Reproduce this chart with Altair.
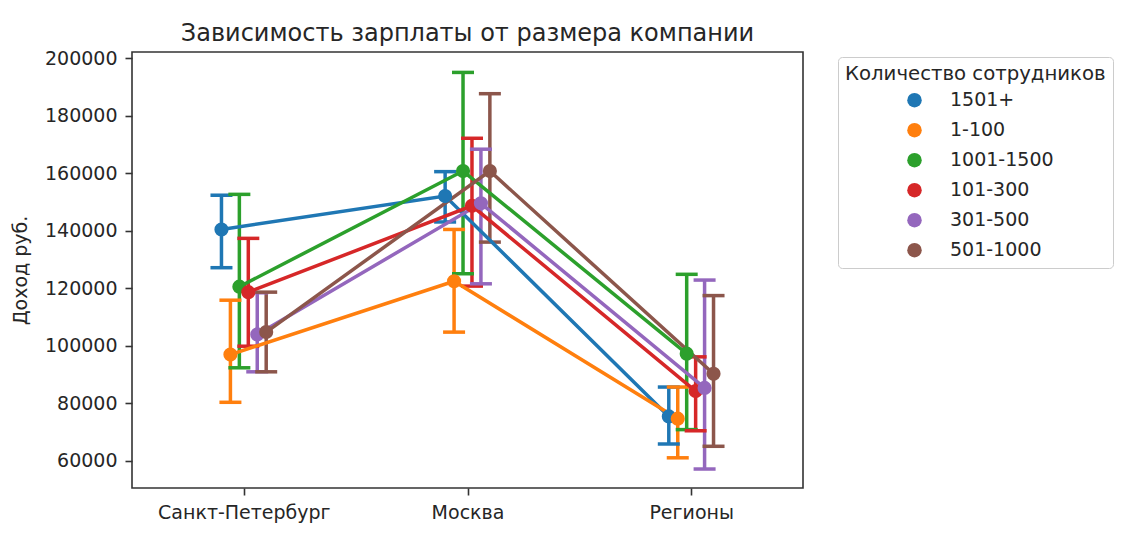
import altair as alt
import pandas as pd

cities = ["Санкт-Петербург", "Москва", "Регионы"]
groups = ["1501+", "1-100", "1001-1500", "101-300", "301-500", "501-1000"]
colors = ["#1f77b4", "#ff7f0e", "#2ca02c", "#d62728", "#9467bd", "#8c564b"]

mean_vals = {
    "1501+":     [140400, 152000, 75400],
    "1-100":     [96900, 122400, 74600],
    "1001-1500": [120500, 160700, 97200],
    "101-300":   [118600, 148600, 84200],
    "301-500":   [103900, 149500, 85300],
    "501-1000":  [104700, 160700, 90200],
}
lo_vals = {
    "1501+":     [127100, 143000, 65800],
    "1-100":     [80300, 104700, 61000],
    "1001-1500": [92300, 125000, 70800],
    "101-300":   [99800, 120700, 70400],
    "301-500":   [90900, 121500, 57100],
    "501-1000":  [90900, 136000, 65000],
}
hi_vals = {
    "1501+":     [152300, 160500, 85600],
    "1-100":     [115800, 140400, 85600],
    "1001-1500": [152600, 195000, 124800],
    "101-300":   [137300, 172100, 96100],
    "301-500":   [118400, 168300, 122800],
    "501-1000":  [118600, 187600, 117400],
}

rows = []
for gi, g in enumerate(groups):
    for ci, c in enumerate(cities):
        rows.append({
            "group": g, "gi": gi, "city": c, "ci": ci,
            "mean": mean_vals[g][ci], "lo": lo_vals[g][ci], "hi": hi_vals[g][ci],
        })
df = pd.DataFrame(rows)

FONT = "DejaVu Sans"
TXT = "#262626"

base = alt.Chart(df).transform_calculate(
    xpos="datum.ci + (datum.gi - 2.5) * 0.04"
)

xenc = alt.X("xpos:Q",
             scale=alt.Scale(domain=[-0.5, 2.5], nice=False, zero=False),
             axis=alt.Axis(values=[0, 1, 2], title=None, labelPadding=8,
                           labelExpr="['Санкт-Петербург','Москва','Регионы'][datum.value]"))
yscale = alt.Scale(domain=[50500, 202100], nice=False, zero=False)
yaxis = alt.Axis(values=[60000, 80000, 100000, 120000, 140000, 160000, 180000, 200000],
                 format="d", title="Доход руб.", labelPadding=8, titlePadding=14)
cscale = alt.Scale(domain=groups, range=colors)
iscale = alt.Scale(domain=list(range(len(groups))), range=colors)

stroke_enc = alt.Stroke("gi:O", scale=iscale, legend=None)
fill_enc = alt.Fill("gi:O", scale=iscale, legend=None)

err = base.mark_rule(strokeWidth=3.5, opacity=1).encode(
    x=xenc,
    y=alt.Y("lo:Q", scale=yscale, axis=yaxis),
    y2="hi:Q",
    stroke=stroke_enc,
)
cap_lo = base.mark_tick(orient="horizontal", size=22, thickness=3.5, opacity=1).encode(
    x=xenc, y=alt.Y("lo:Q", scale=yscale),
    fill=fill_enc,
)
cap_hi = base.mark_tick(orient="horizontal", size=22, thickness=3.5, opacity=1).encode(
    x=xenc, y=alt.Y("hi:Q", scale=yscale),
    fill=fill_enc,
)
lines = base.mark_line(strokeWidth=3.5, opacity=1).encode(
    x=xenc, y=alt.Y("mean:Q", scale=yscale),
    stroke=stroke_enc,
    detail="group:N",
    order="ci:Q",
)
points = base.mark_circle(size=200, opacity=1).encode(
    x=xenc, y=alt.Y("mean:Q", scale=yscale),
    color=alt.Color("group:N", scale=cscale, sort=groups,
                    legend=alt.Legend(title="Количество сотрудников",
                                      orient="none", legendX=706, legendY=5,
                                      symbolType="circle", symbolSize=210,
                                      symbolOffset=60, labelOffset=26,
                                      rowPadding=10, titlePadding=7,
                                      padding=7, strokeColor="#cccccc",
                                      fillColor="white", cornerRadius=4,
                                      titleLimit=400, labelLimit=300)),
)

chart = alt.layer(err, cap_lo, cap_hi, lines, points).properties(
    width=671, height=436,
    title=alt.TitleParams("Зависимость зарплаты от размера компании",
                          fontSize=24, font=FONT, fontWeight="normal",
                          color=TXT, offset=3, anchor="middle"),
    autosize=alt.AutoSizeParams(type="none"),
    padding={"left": 124, "top": 44, "right": 320, "bottom": 50},
).configure_view(
    stroke="#333333", strokeWidth=1.6
).configure_axis(
    domain=False, grid=False, labelFont=FONT, titleFont=FONT,
    labelFontSize=19, titleFontSize=19, labelColor=TXT, titleColor=TXT,
    titleFontWeight="normal", tickColor="#333333", tickWidth=1.6, tickSize=7,
).configure_legend(
    labelFont=FONT, titleFont=FONT, labelFontSize=19, titleFontSize=19.7,
    titleFontWeight="normal", labelColor=TXT, titleColor=TXT,
)

chart.save("out.html", embed_options={"renderer": "svg", "actions": False})
